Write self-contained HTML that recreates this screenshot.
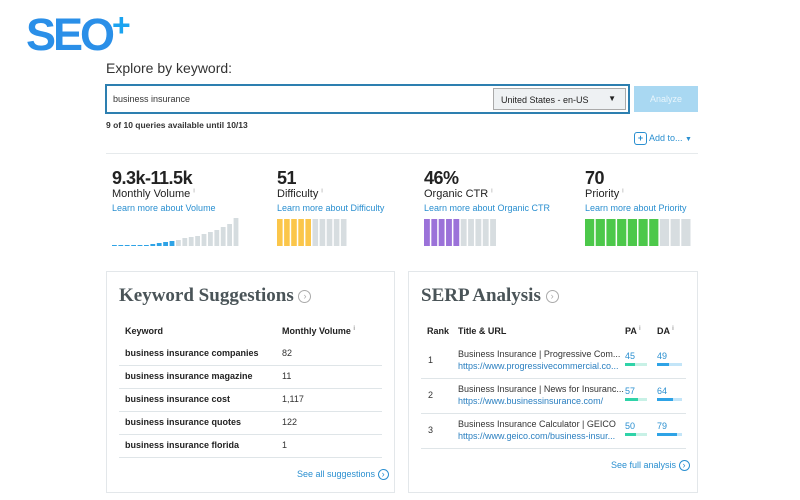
<!DOCTYPE html>
<html><head><meta charset="utf-8"><style>
*{margin:0;padding:0;box-sizing:border-box}
body{width:800px;height:500px;background:#fff;font-family:"Liberation Sans",sans-serif;position:relative;overflow:hidden;color:#333}
.a{position:absolute;white-space:nowrap}
.big{font-family:"Liberation Sans",sans-serif;font-weight:bold;font-size:18px;color:#222;letter-spacing:-0.5px}
.lbl{font-size:11px;color:#222}
.ll{font-size:9px;color:#2a8fd0}
.card{position:absolute;border:1px solid #e3e7ea;background:#fff}
.ttl{font-family:"Liberation Serif",serif;font-weight:bold;font-size:19px;color:#4a5458}
.th{font-size:9px;color:#222}
.row{font-size:9px;font-weight:bold;color:#222}
.sep{position:absolute;height:1px;background:#dfe5e8}
.circ{display:inline-block;width:13px;height:13px;border:1.3px solid #aaa;border-radius:50%;font-size:9px;line-height:10px;text-align:center;color:#aaa;vertical-align:middle;font-family:"Liberation Sans",sans-serif;font-weight:normal}
</style></head><body>
<div class="a" style="left:26px;top:10px;font-family:'Liberation Sans',sans-serif;font-weight:bold;font-size:45px;color:#2a8fe8;letter-spacing:-3px;line-height:50px">SEO<span style="position:absolute;left:86px;top:-10px;font-size:32px;color:#1aa3f0">+</span></div>
<div class="a" style="left:106px;top:60px;font-size:14px;color:#333">Explore by keyword:</div>
<div class="a" style="left:105px;top:84px;width:525px;height:30px;border:2px solid #2d7fb0;background:#fff"></div>
<div class="a" style="left:113px;top:94px;font-size:9px;color:#333">business insurance</div>
<div class="a" style="left:493px;top:88px;width:133px;height:22px;border:1px solid #aaa;background:#eef1f3;font-size:9px;padding:6px 7px;color:#222">United States - en-US<span style="position:absolute;right:9px;top:5px;font-size:8px">▼</span></div>
<div class="a" style="left:634px;top:86px;width:64px;height:26px;background:#a9d8f2;color:#e8f5fc;font-size:9px;text-align:center;line-height:26px">Analyze</div>
<div class="a" style="left:106px;top:120px;font-size:8.5px;font-weight:bold;color:#333">9 of 10 queries available until 10/13</div>
<div class="a" style="left:634px;top:132px;font-size:9px;color:#2a8fd0"><span style="display:inline-block;width:13px;height:13px;border:1.3px solid #2a8fd0;border-radius:3px;text-align:center;line-height:10px;font-weight:bold">+</span> Add to... <span style="font-size:7px">▼</span></div>
<div class="sep" style="left:106px;top:153px;width:592px;background:#e6eaec"></div>

<div class="a big" style="left:112px;top:168px">9.3k-11.5k</div>
<div class="a lbl" style="left:112px;top:188px">Monthly Volume <sup style="font-size:6px;color:#999">i</sup></div>
<div class="a ll" style="left:112px;top:203px">Learn more about Volume</div>
<div class="a big" style="left:277px;top:168px">51</div>
<div class="a lbl" style="left:277px;top:188px">Difficulty <sup style="font-size:6px;color:#999">i</sup></div>
<div class="a ll" style="left:277px;top:203px">Learn more about Difficulty</div>
<div class="a big" style="left:424px;top:168px">46%</div>
<div class="a lbl" style="left:424px;top:188px">Organic CTR <sup style="font-size:6px;color:#999">i</sup></div>
<div class="a ll" style="left:424px;top:203px">Learn more about Organic CTR</div>
<div class="a big" style="left:585px;top:168px">70</div>
<div class="a lbl" style="left:585px;top:188px">Priority <sup style="font-size:6px;color:#999">i</sup></div>
<div class="a ll" style="left:585px;top:203px">Learn more about Priority</div>

<svg id="metrics" class="a" style="left:0;top:0" width="800" height="260"></svg>

<div class="card" style="left:106px;top:271px;width:289px;height:222px"></div>
<div class="a ttl" style="left:119px;top:285px">Keyword Suggestions <span class="circ">›</span></div>
<div class="a th" style="left:125px;top:326px;font-weight:bold">Keyword</div>
<div class="a th" style="left:282px;top:326px;font-weight:bold">Monthly Volume <sup style="font-size:6px;color:#999">i</sup></div>
<div id="kw"></div>
<div class="a" style="left:297px;top:469px;font-size:9px;color:#2a8fd0">See all suggestions <span class="circ" style="border-color:#2a8fd0;color:#2a8fd0;width:11px;height:11px;line-height:8px">›</span></div>

<div class="card" style="left:408px;top:271px;width:290px;height:222px"></div>
<div class="a ttl" style="left:421px;top:285px">SERP Analysis <span class="circ">›</span></div>
<div class="a th" style="left:427px;top:326px;font-weight:bold">Rank</div>
<div class="a th" style="left:458px;top:326px;font-weight:bold">Title &amp; URL</div>
<div class="a th" style="left:625px;top:326px;font-weight:bold">PA <sup style="font-size:6px;color:#999">i</sup></div>
<div class="a th" style="left:657px;top:326px;font-weight:bold">DA <sup style="font-size:6px;color:#999">i</sup></div>
<div id="serp"></div>
<div class="a" style="left:611px;top:460px;font-size:9px;color:#2a8fd0">See full analysis <span class="circ" style="border-color:#2a8fd0;color:#2a8fd0;width:11px;height:11px;line-height:8px">›</span></div>

<script>
const volumeBars=[1,1,1,1,1,1,2,3,4,5,6,8,9,10,12,14,16,19,22,28];
const volumeHighlighted=10;
const difficultyFilled=5, ctrFilled=5, priorityFilled=7;
const kwTerms=["business insurance companies","business insurance magazine","business insurance cost","business insurance quotes","business insurance florida"];
const kwVolumes=["82","11","1,117","122","1"];
const serpTitles=["Business Insurance | Progressive Com...","Business Insurance | News for Insuranc...","Business Insurance Calculator | GEICO"];
const serpUrls=["https://www.progressivecommercial.co...","https://www.businessinsurance.com/","https://www.geico.com/business-insur..."];
const serpPA=[45,57,50];
const serpDA=[49,64,79];

const NS="http://www.w3.org/2000/svg";
const svg=document.getElementById('metrics');
function rect(x,y,w,h,f,name){const r=document.createElementNS(NS,'rect');r.setAttribute('x',x);r.setAttribute('y',y);r.setAttribute('width',w);r.setAttribute('height',h);r.setAttribute('fill',f);


svg.appendChild(r);}
const base=246;
volumeBars.forEach((v,i)=>{rect(112+i*6.4,base-v,4.8,v,i<volumeHighlighted?'#2ea3e6':'#d5dcdf','volume-bar');});
function seg(x0,pitch,filled,color,name){for(let i=0;i<10;i++)rect(x0+i*pitch,219,pitch-1.5,27,i<filled?color:'#d7dde0',name);}
seg(277,7.1,difficultyFilled,'#fbc64a','difficulty-segment');
seg(424,7.35,ctrFilled,'#9b72d9','ctr-segment');
seg(585,10.7,priorityFilled,'#4cc84a','priority-segment');

const kw=document.getElementById('kw');
kwTerms.forEach((t,i)=>{const y=348+i*23;
const a=document.createElement('div');a.className='a row';a.style.left='125px';a.style.top=y+'px';a.textContent=t;


kw.appendChild(a);
const b=document.createElement('div');b.className='a';b.style.cssText='left:282px;top:'+y+'px;font-size:9px;color:#333';b.textContent=kwVolumes[i];


kw.appendChild(b);
const s=document.createElement('div');s.className='sep';s.style.cssText='left:119px;top:'+(y+17)+'px;width:263px';


kw.appendChild(s);});

const sp=document.getElementById('serp');
serpTitles.forEach((t,i)=>{const y=349+i*35;
function add(html,css,name,inter){const d=document.createElement('div');d.className='a';d.style.cssText=css;d.innerHTML=html;


sp.appendChild(d);}
add(String(i+1),'left:428px;top:'+(y+6)+'px;font-size:9px;color:#333','serp-rank','false');
add(t,'left:458px;top:'+y+'px;font-size:9px;color:#333','serp-title','false');
add(serpUrls[i],'left:458px;top:'+(y+12)+'px;font-size:9px;color:#2a7fc0','serp-url','true');
add(String(serpPA[i]),'left:625px;top:'+(y+2)+'px;font-size:9px;color:#2a8fd0','serp-pa','false');
add(String(serpDA[i]),'left:657px;top:'+(y+2)+'px;font-size:9px;color:#2a8fd0','serp-da','false');
add('<div style="position:absolute;left:0;top:0;height:3px;width:'+(22*serpPA[i]/100)+'px;background:#2fd3a8"></div>','left:625px;top:'+(y+14)+'px;width:22px;height:3px;background:#c8f1e6','serp-pa-bar','false');
add('<div style="position:absolute;left:0;top:0;height:3px;width:'+(25*serpDA[i]/100)+'px;background:#2ea3e6"></div>','left:657px;top:'+(y+14)+'px;width:25px;height:3px;background:#c3e5f8','serp-da-bar','false');
add('','left:421px;top:'+(y+29)+'px;width:265px;height:1px;background:#dfe5e8','row-separator','false');});
</script>
</body></html>
